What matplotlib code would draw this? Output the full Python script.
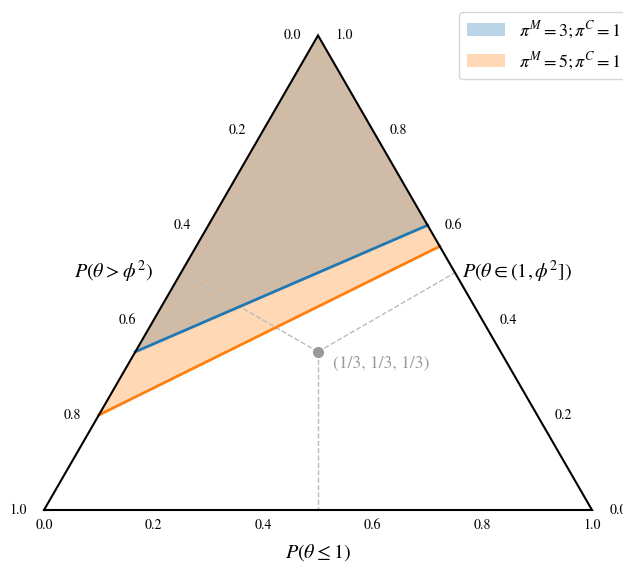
import matplotlib
matplotlib.use('Agg')
import matplotlib.pyplot as plt
import numpy as np

plt.rcParams['font.family'] = 'serif'
plt.rcParams['font.serif'] = ['STIXGeneral', 'Liberation Serif', 'DejaVu Serif']
plt.rcParams['mathtext.fontset'] = 'stix'

# boundaries (p1 = P(theta<=1), p2 = P(theta in (1,phi^2]), p3 = rest)
labels = [r'$\pi^M=3;\pi^C=1$', r'$\pi^M=5;\pi^C=1$']
colors = ['#1f77b4', '#ff7f0e']
left_p = [[0.0, 1 / 3, 2 / 3], [0.0, 0.2, 0.8]]
right_p = [[0.4, 0.6, 0.0], [4 / 9, 5 / 9, 0.0]]
ticks = [0.0, 0.2, 0.4, 0.6, 0.8, 1.0]
center = [1 / 3, 1 / 3, 1 / 3]

H = np.sqrt(3) / 2


def xy(p):
    p = np.asarray(p, dtype=float)
    return p[0] + p[1] / 2, p[1] * H


fig = plt.figure(figsize=(6.23, 5.65), dpi=100)
ax = fig.add_axes([0, 0, 1, 1])
ax.set_xlim(-44 / 548, 579 / 548)
ax.set_ylim(-55 / 548, 510 / 548)
ax.axis('off')

A = xy([0, 0, 1])  # bottom-left
B = xy([1, 0, 0])  # bottom-right
C = xy([0, 1, 0])  # top

# shaded regions (above each boundary)
for lp, rp, col, lab in zip(left_p, right_p, colors, labels):
    l, r = xy(lp), xy(rp)
    ax.fill([l[0], C[0], r[0]], [l[1], C[1], r[1]], color=col, alpha=0.3,
            lw=0, label=lab, zorder=1)
for lp, rp, col in zip(left_p, right_p, colors):
    l, r = xy(lp), xy(rp)
    ax.plot([l[0], r[0]], [l[1], r[1]], color=col, lw=2, zorder=3)

# dashed lines from the centre to each edge midpoint
cx, cy = xy(center)
for m in ([0.5, 0, 0.5], [0, 0.5, 0.5], [0.5, 0.5, 0]):
    mx, my = xy(m)
    ax.plot([cx, mx], [cy, my], ls='--', color='#bbbbbb', lw=1, zorder=2)
ax.plot(cx, cy, 'o', color='#999999', ms=7, zorder=4)
ax.text(cx + 15 / 548, cy - 12 / 548, '(1/3, 1/3, 1/3)', color='#999999',
        fontsize=12.5, ha='left', va='center')

# triangle outline
ax.plot([A[0], B[0], C[0], A[0]], [A[1], B[1], C[1], A[1]], color='black',
        lw=1.5, zorder=5, solid_joinstyle='miter')

# tick labels
d = 1 / 548
for t in ticks:
    bx, by = xy([t, 0, 1 - t])
    ax.text(bx, by - 15 * d, f'{t:.1f}', fontsize=10, ha='center', va='center')
    lx, ly = xy([0, 1 - t, t])
    ax.text(lx - 26 * d, ly, f'{t:.1f}', fontsize=10, ha='center', va='center')
    rx, ry = xy([1 - t, t, 0])
    ax.text(rx + 26 * d, ry, f'{t:.1f}', fontsize=10, ha='center', va='center')

# axis titles
ax.text(318 * d - 44 * d, -43 * d, r'$P(\theta\leq1)$', fontsize=14.5,
        ha='center', va='center')
ax.text(153 * d - 44 * d, (510 - 272) * d, r'$P(\theta>\phi^2)$', fontsize=14.5,
        ha='right', va='center')
ax.text(462 * d - 44 * d, (510 - 272) * d, r'$P(\theta\in(1,\phi^2])$',
        fontsize=14.5, ha='left', va='center')

ax.legend(loc='upper right', bbox_to_anchor=(628 / 623, 1 - 12 / 565),
          borderaxespad=0, fontsize=13, frameon=True, handlelength=2.1)

fig.savefig('out.png', dpi=100, facecolor='white')
